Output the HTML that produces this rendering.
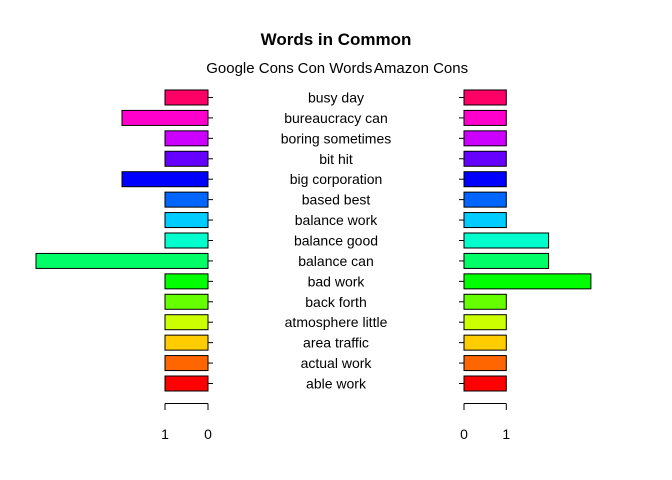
<!DOCTYPE html>
<html><head><meta charset="utf-8"><style>
body{margin:0;background:#fff}
svg{display:block;font-family:"Liberation Sans",Arial,sans-serif}
</style></head><body>
<svg id="chart" width="672" height="480">
<text x="336" y="45" text-anchor="middle" font-size="17" font-weight="bold">Words in Common</text>
<text x="250" y="73" text-anchor="middle" font-size="15">Google Cons</text>
<text x="335" y="73" text-anchor="middle" font-size="15">Con Words</text>
<text x="421" y="73" text-anchor="middle" font-size="15">Amazon Cons</text>
<g id="marks"></g>
</svg>
<script>
const categories=["able work","actual work","area traffic","atmosphere little","back forth","bad work","balance can","balance good","balance work","based best","big corporation","bit hit","boring sometimes","bureaucracy can","busy day"];
const googleValues=[1,1,1,1,1,1,4,1,1,1,2,1,1,2,1];
const amazonValues=[1,1,1,1,1,3,2,2,1,1,1,1,1,1,1];
const colors=["#FF0000","#FF6600","#FFCC00","#CCFF00","#66FF00","#00FF00","#00FF66","#00FFCC","#00CCFF","#0066FF","#0000FF","#6600FF","#CC00FF","#FF00CC","#FF0066"];
const leftTicks=[1,0];
const rightTicks=[0,1];
const NS="http://www.w3.org/2000/svg";
const g=document.getElementById('marks');
const lx=v=>208-v*43;
const rx=v=>464+v*42.3;
const ry=i=>383.5-i*20.43;
function mk(tag,a){const e=document.createElementNS(NS,tag);for(const k in a)e.setAttribute(k,a[k]);g.appendChild(e);return e;}
categories.forEach((c,i)=>{
  const y=ry(i);
  let b=mk('rect',{x:lx(googleValues[i]),y:y-7.5,width:lx(0)-lx(googleValues[i]),height:15,fill:colors[i],stroke:'#000','stroke-width':1});
  
  
  let b2=mk('rect',{x:rx(0),y:y-7.5,width:rx(amazonValues[i])-rx(0),height:15,fill:colors[i],stroke:'#000','stroke-width':1});
  
  
  mk('line',{x1:208,x2:213,y1:y,y2:y,stroke:'#000'});
  mk('line',{x1:459,x2:464,y1:y,y2:y,stroke:'#000'});
  let t=mk('text',{x:336,y:y+5,'text-anchor':'middle','font-size':14});
  t.textContent=c;
  
  
});
mk('line',{x1:lx(1),x2:lx(0),y1:403.5,y2:403.5,stroke:'#000'});
mk('line',{x1:rx(0),x2:rx(1),y1:403.5,y2:403.5,stroke:'#000'});
leftTicks.forEach(v=>{
  mk('line',{x1:lx(v),x2:lx(v),y1:403.5,y2:410,stroke:'#000'});
  let t=mk('text',{x:lx(v),y:439,'text-anchor':'middle','font-size':14});
  t.textContent=v;
  
  
});
rightTicks.forEach(v=>{
  mk('line',{x1:rx(v),x2:rx(v),y1:403.5,y2:410,stroke:'#000'});
  let t=mk('text',{x:rx(v),y:439,'text-anchor':'middle','font-size':14});
  t.textContent=v;
  
  
});
</script>
</body></html>
